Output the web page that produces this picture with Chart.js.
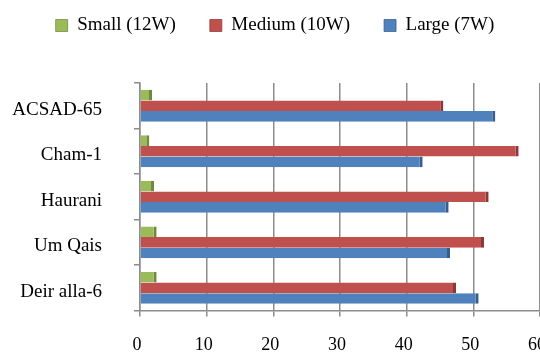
<!DOCTYPE html>
<html>
<head>
<meta charset="utf-8">
<script src="https://cdn.jsdelivr.net/npm/chart.js@4.4.1/dist/chart.umd.min.js"></script>
<style>
  html, body { margin: 0; padding: 0; background: #ffffff; }
  #wrap { width: 540px; height: 354px; position: relative; }
</style>
</head>
<body>
<div id="wrap"><canvas id="c" width="540" height="354"></canvas></div>
<script>
const categories = ['ACSAD-65', 'Cham-1', 'Haurani', 'Um Qais', 'Deir alla-6'];
const seriesNames = ['Small (12W)', 'Medium (10W)', 'Large (7W)'];
const smallValues = [1.8, 1.4, 2.1, 2.5, 2.5];
const mediumValues = [45.5, 56.8, 52.3, 51.6, 47.4];
const largeValues = [53.3, 42.4, 46.3, 46.5, 50.8];
const xTicks = [0, 10, 20, 30, 40, 50, 60];

const serif = "'Liberation Serif', 'Times New Roman', serif";

const legendSizer = {
  id: 'legendSizer',
  beforeInit(chart) {
    const orig = chart.legend.fit;
    chart.legend.fit = function () {
      orig.call(this);
      this.height = 101;
    };
  }
};

const labelClipFix = {
  id: 'labelClipFix',
  afterLayout(chart) {
    const xs = chart.scales.x;
    xs._computeLabelArea = function () {
      return { top: this.top, left: 0, bottom: chart.height + 40, right: chart.width };
    };
  }
};

new Chart(document.getElementById('c'), {
  type: 'bar',
  data: {
    labels: categories,
    datasets: [
      { label: seriesNames[0], data: smallValues, backgroundColor: '#9BBB59', borderColor: '#71893F', borderWidth: { right: 3, top: 0, bottom: 0, left: 0 }, borderSkipped: false },
      { label: seriesNames[1], data: mediumValues, backgroundColor: '#C0504D', borderColor: '#8C3836', borderWidth: { right: 3, top: 0, bottom: 0, left: 0 }, borderSkipped: false },
      { label: seriesNames[2], data: largeValues, backgroundColor: '#4F81BD', borderColor: '#365E8D', borderWidth: { right: 3, top: 0, bottom: 0, left: 0 }, borderSkipped: false }
    ]
  },
  options: {
    indexAxis: 'y',
    responsive: false,
    animation: false,
    layout: { padding: { top: -18, left: 10, right: 0, bottom: 0 } },
    datasets: { bar: { categoryPercentage: 0.7, barPercentage: 1.0 } },
    plugins: {
      legend: {
        position: 'top',
        labels: {
          font: { family: serif, size: 19 },
          color: '#000000',
          boxWidth: 12,
          boxHeight: 12,
          padding: 34
        }
      },
      tooltip: { enabled: false }
    },
    scales: {
      x: {
        min: 0,
        max: 60,
        afterFit(s) { s.height = 36; s.paddingRight = 0; s.paddingLeft = 0; },
        afterBuildTicks(s) { s.ticks = xTicks.map(v => ({ value: v })); },
        grid: { color: '#8c8c8c', lineWidth: 1.5, tickLength: 6, drawTicks: true },
        border: { display: true, color: '#8c8c8c', width: 1.5 },
        ticks: { font: { family: serif, size: 18 }, color: '#000000', padding: 18, labelOffset: -3, maxRotation: 0 }
      },
      y: {
        afterFit(s) { s.width = 130; },
        grid: { display: true, drawOnChartArea: false, color: '#8c8c8c', lineWidth: 1.5, tickLength: 6 },
        border: { display: true, color: '#8c8c8c', width: 1.5 },
        ticks: { font: { family: serif, size: 19 }, color: '#000000', padding: 32, labelOffset: 4 }
      }
    }
  },
  plugins: [legendSizer, labelClipFix]
});
</script>
</body>
</html>
